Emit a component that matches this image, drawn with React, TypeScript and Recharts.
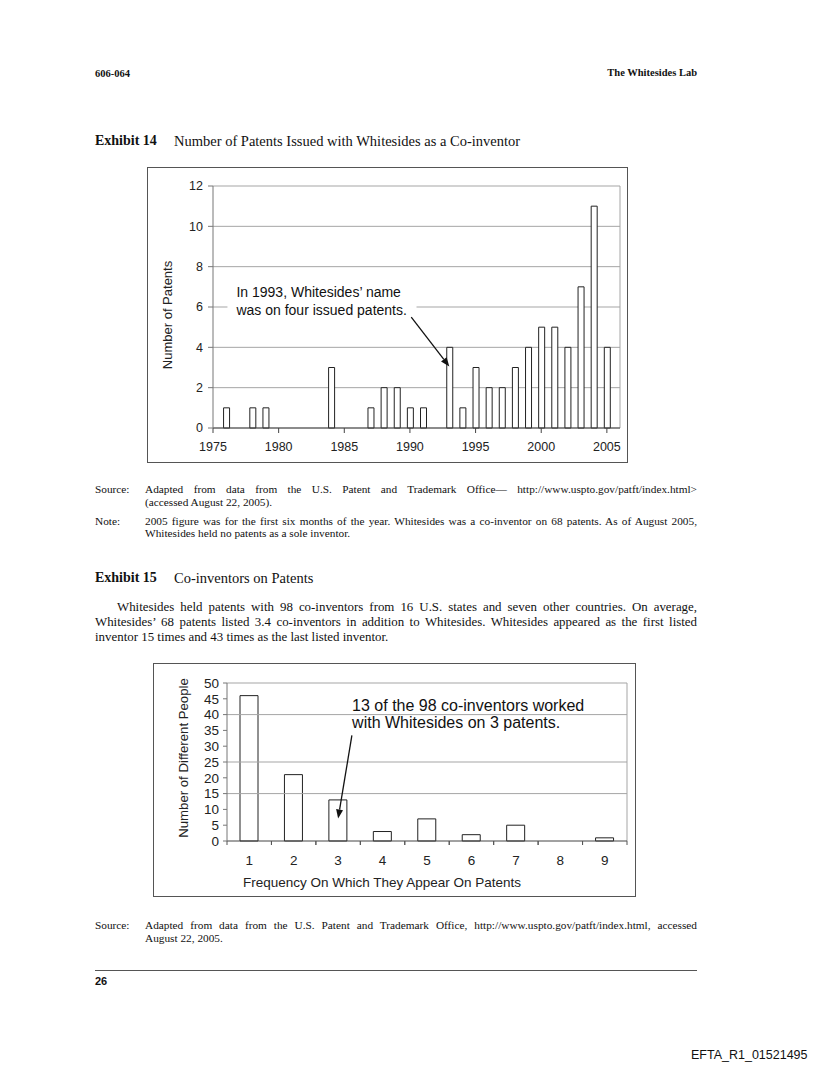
import React from 'react';
import { BarChart, Bar, XAxis, YAxis, CartesianGrid, ReferenceLine, ReferenceArea } from 'recharts';

// Exhibit 14: patents issued per year
const patentYears = [
  1975, 1976, 1977, 1978, 1979, 1980, 1981, 1982, 1983, 1984, 1985, 1986, 1987, 1988, 1989, 1990,
  1991, 1992, 1993, 1994, 1995, 1996, 1997, 1998, 1999, 2000, 2001, 2002, 2003, 2004, 2005,
];
const patentCounts = [
  0, 1, 0, 1, 1, 0, 0, 0, 0, 3, 0, 0, 1, 2, 2, 1,
  1, 0, 4, 1, 3, 2, 2, 3, 4, 5, 5, 4, 7, 11, 4,
];
const yearTicks = [1975, 1980, 1985, 1990, 1995, 2000, 2005];
const patentTicks = [0, 2, 4, 6, 8, 10, 12];

// Exhibit 15: co-inventors by frequency
const frequencies = [1, 2, 3, 4, 5, 6, 7, 8, 9];
const peopleCounts = [46, 21, 13, 3, 7, 2, 5, 0, 1];
const peopleTicks = [0, 5, 10, 15, 20, 25, 30, 35, 40, 45, 50];
const peopleGrid = [15, 25, 40, 50];

const note1 = ['In 1993, Whitesides\u2019 name', 'was on four issued patents.'];
const note2 = ['13 of the 98 co-inventors worked', 'with Whitesides on 3 patents.'];

const patentData = patentYears.map((year, i) => ({ year, count: patentCounts[i] }));
const peopleData = frequencies.map((freq, i) => ({ freq, people: peopleCounts[i] }));

const sans = '"Liberation Sans", Arial, sans-serif';
const serif = '"Liberation Serif", "Times New Roman", serif';

const PEOPLE_PLOT_W = 400;
const halfBand = PEOPLE_PLOT_W / frequencies.length / 2;

// arrow drawn as a reference line segment
const Arrow = (props: any) => {
  const { x1, y1, x2, y2 } = props;
  const a = Math.atan2(y2 - y1, x2 - x1);
  const len = 9;
  const w = 3.5;
  const bx = x2 - len * Math.cos(a);
  const by = y2 - len * Math.sin(a);
  const px = -Math.sin(a) * w;
  const py = Math.cos(a) * w;
  return (
    <g>
      <line x1={x1} y1={y1} x2={bx} y2={by} stroke="#111" strokeWidth={1.3} />
      <polygon points={`${x2},${y2} ${bx + px},${by + py} ${bx - px},${by - py}`} fill="#111" />
    </g>
  );
};

const noteBox = (lines: string[], fontSize: number, padX: number, firstY: number, gap: number) => (props: any) => {
  const { x, y, width, height } = props;
  return (
    <g>
      <rect x={x} y={y} width={width} height={height} fill="#fff" />
      {lines.map((t, i) => (
        <text key={i} x={x + padX} y={y + firstY + i * gap} fontSize={fontSize} fontFamily={sans} fill="#111">
          {t}
        </text>
      ))}
    </g>
  );
};

const vLabel = (text: string, dx: number, dy: number, fontSize: number) => (props: any) => {
  const vb = props.viewBox || {};
  const cx = vb.x + dx;
  const cy = vb.y + vb.height / 2 + dy;
  return (
    <text x={cx} y={cy} transform={`rotate(-90, ${cx}, ${cy})`} textAnchor="middle" dominantBaseline="central"
      fontSize={fontSize} fontFamily={sans} fill="#222">
      {text}
    </text>
  );
};

const hLabel = (text: string, dx: number, dy: number, fontSize: number) => (props: any) => {
  const vb = props.viewBox || {};
  return (
    <text x={vb.x + dx} y={vb.y + dy} textAnchor="middle" dominantBaseline="central"
      fontSize={fontSize} fontFamily={sans} fill="#222">
      {text}
    </text>
  );
};

// tick label at the bar, tick marks on the band edges
const FreqTick = (props: any) => {
  const { x, y, payload } = props;
  const axisY = y - 14.5;
  return (
    <g>
      <line x1={x - halfBand} y1={axisY} x2={x - halfBand} y2={axisY + 4} stroke="#555" />
      <line x1={x + halfBand} y1={axisY} x2={x + halfBand} y2={axisY + 4} stroke="#555" />
      <text x={x} y={y} dy="0.71em" textAnchor="middle" fontSize={13.5} fontFamily={sans} fill="#222">
        {payload.value}
      </text>
    </g>
  );
};

const abs = (left: number, top: number, extra: React.CSSProperties = {}): React.CSSProperties => ({
  position: 'absolute',
  left,
  top,
  ...extra,
});

function TextLine({ left, center, width, size, children, justify = false, bold = false, family = serif }: any) {
  const lh = Math.round(size * 1.25);
  return (
    <div
      style={abs(left, center - lh / 2, {
        width,
        fontSize: size,
        lineHeight: `${lh}px`,
        fontFamily: family,
        fontWeight: bold ? 'bold' : 'normal',
        color: '#111',
        textAlign: justify ? 'justify' : 'left',
        textAlignLast: justify ? 'justify' : 'auto',
      })}
    >
      {children}
    </div>
  );
}

export default function App() {
  return (
    <div style={{ position: 'absolute', left: 0, top: 0, width: 816, height: 1073, background: '#fff' }}>
      <TextLine left={95} center={73} size={10.5} bold>606-064</TextLine>
      <div style={abs(497, 66, { width: 200, textAlign: 'right', fontSize: 10.5, lineHeight: '13px', fontFamily: serif, fontWeight: 'bold', color: '#111' })}>
        The Whitesides Lab
      </div>

      <TextLine left={95} center={141} size={14} bold>Exhibit 14</TextLine>
      <TextLine left={174} center={141} size={14.5}>Number of Patents Issued with Whitesides as a Co-inventor</TextLine>

      <div style={abs(147, 167, { width: 481, height: 296, border: '1px solid #555', boxSizing: 'border-box', background: '#fff' })}>
        <BarChart width={479} height={294} data={patentData} margin={{ top: 18, right: 7, bottom: 0, left: 0 }}>
          <CartesianGrid vertical={false} stroke="#a5a5a5" />
          <XAxis
            dataKey="year"
            type="number"
            domain={[1975, 2006]}
            ticks={yearTicks}
            interval={0}
            allowDataOverflow
            height={34}
            tickSize={5}
            tickMargin={9}
            axisLine={{ stroke: '#444' }}
            tickLine={{ stroke: '#444' }}
            tick={{ fill: '#222', fontSize: 12.5, fontFamily: sans }}
          />
          <YAxis
            type="number"
            domain={[0, 12]}
            ticks={patentTicks}
            interval={0}
            width={65}
            tickSize={5}
            tickMargin={5}
            axisLine={{ stroke: '#777' }}
            tickLine={{ stroke: '#777' }}
            tick={{ fill: '#222', fontSize: 12.5, fontFamily: sans }}
            label={{ content: vLabel('Number of Patents', 19, 8, 13) }}
          />
          <ReferenceLine x={2006} stroke="#a5a5a5" />
          <ReferenceArea x1={1976.1} x2={1990.5} y1={5.5} y2={7.2} shape={noteBox(note1, 14, 9, 14.5, 17.3)} ifOverflow="visible" />
          <ReferenceLine segment={[{ x: 1990.1, y: 5.5 }, { x: 1993, y: 3.05 }]} shape={Arrow} ifOverflow="visible" />
          <Bar dataKey="count" fill="#fff" stroke="#222" strokeWidth={1} barSize={6} isAnimationActive={false} />
        </BarChart>
      </div>

      <TextLine left={95} center={489} size={11.3}>Source:</TextLine>
      <TextLine left={145} center={489} width={552} size={11.3} justify>
        Adapted from data from the U.S. Patent and Trademark Office— http://www.uspto.gov/patft/index.html&gt;
      </TextLine>
      <TextLine left={145} center={501.5} size={11.3}>(accessed August 22, 2005).</TextLine>
      <TextLine left={95} center={520.5} size={11.3}>Note:</TextLine>
      <TextLine left={145} center={520.5} width={552} size={11.3} justify>
        2005 figure was for the first six months of the year.  Whitesides was a co-inventor on 68 patents.  As of August 2005,
      </TextLine>
      <TextLine left={145} center={533} size={11.3}>Whitesides held no patents as a sole inventor.</TextLine>

      <TextLine left={95} center={577.5} size={14} bold>Exhibit 15</TextLine>
      <TextLine left={174} center={577.5} size={14.5}>Co-inventors on Patents</TextLine>

      <TextLine left={117} center={607} width={580} size={12.9} justify>
        Whitesides held patents with 98 co-inventors from 16 U.S. states and seven other countries.  On average,
      </TextLine>
      <TextLine left={95} center={622} width={602} size={12.9} justify>
        Whitesides’ 68 patents listed 3.4 co-inventors in addition to Whitesides.  Whitesides appeared as the first listed
      </TextLine>
      <TextLine left={95} center={637} size={12.9}>inventor 15 times and 43 times as the last listed inventor.</TextLine>

      <div style={abs(153, 663, { width: 483, height: 234, border: '1px solid #555', boxSizing: 'border-box', background: '#fff' })}>
        <BarChart width={481} height={232} data={peopleData} margin={{ top: 19, right: 8, bottom: 0, left: 0 }}>
          <XAxis
            dataKey="freq"
            type="number"
            domain={[0.5, 9.5]}
            ticks={frequencies}
            allowDataOverflow
            height={55}
            tickSize={4}
            tickMargin={10.5}
            interval={0}
            axisLine={{ stroke: '#444' }}
            tickLine={{ stroke: 'none' }}
            tick={FreqTick}
            label={{ content: hLabel('Frequency On Which They Appear On Patents', 155, 41, 13.5) }}
          />
          <YAxis
            type="number"
            domain={[0, 50]}
            ticks={peopleTicks}
            interval={0}
            width={73}
            tickSize={4}
            tickMargin={4}
            axisLine={{ stroke: '#777' }}
            tickLine={{ stroke: '#777' }}
            tick={{ fill: '#222', fontSize: 13.5, fontFamily: sans }}
            label={{ content: vLabel('Number of Different People', 29, -4, 13.2) }}
          />
          {peopleGrid.map((v) => (
            <ReferenceLine key={v} y={v} stroke="#a5a5a5" />
          ))}
          <ReferenceLine x={9.5} stroke="#a5a5a5" />
          <ReferenceArea x1={3.09} x2={9.02} y1={33.4} y2={47.7} shape={noteBox(note2, 16, 10, 20.6, 16.7)} ifOverflow="visible" />
          <ReferenceLine segment={[{ x: 3.31, y: 33.4 }, { x: 3.0, y: 7.1 }]} shape={Arrow} ifOverflow="visible" />
          <Bar dataKey="people" fill="#fff" stroke="#222" strokeWidth={1} barSize={18} isAnimationActive={false} />
        </BarChart>
      </div>

      <TextLine left={95} center={925} size={11.3}>Source:</TextLine>
      <TextLine left={145} center={925} width={552} size={11.3} justify>
        Adapted from data from the U.S. Patent and Trademark Office, http://www.uspto.gov/patft/index.html, accessed
      </TextLine>
      <TextLine left={145} center={938} size={11.3}>August 22, 2005.</TextLine>

      <div style={abs(95, 970, { width: 602, height: 0, borderTop: '1px solid #555' })} />
      <TextLine left={95} center={981} size={11} bold family={sans}>26</TextLine>

      <TextLine left={691} center={1055} size={12.5} family={sans}>EFTA_R1_01521495</TextLine>
    </div>
  );
}
